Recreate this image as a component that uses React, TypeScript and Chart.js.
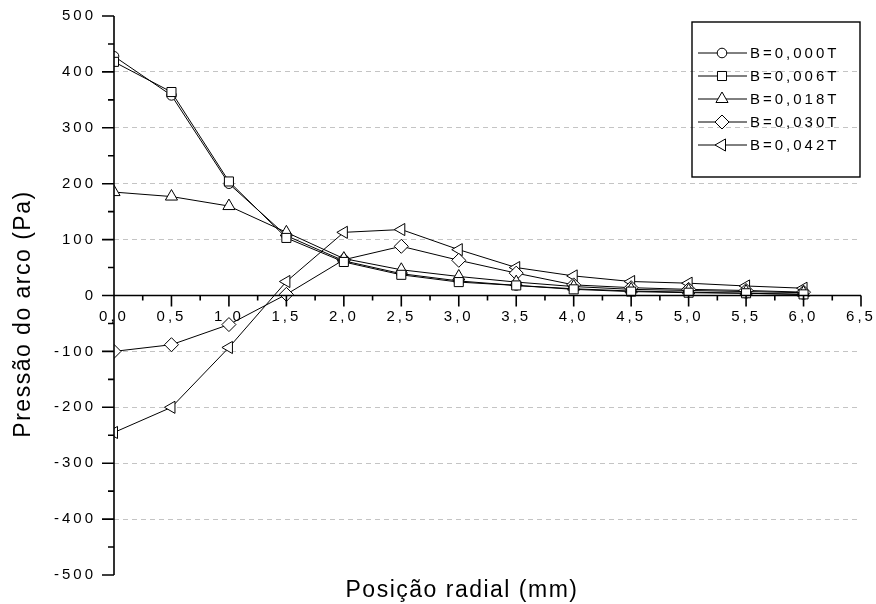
import React, { useEffect, useRef } from 'react';
import { Chart, registerables } from 'chart.js';
import { drawPoint } from 'chart.js/helpers';

Chart.register(...registerables);

// Radial position of each measurement (mm)
const radialPositions = [0, 0.5, 1, 1.5, 2, 2.5, 3, 3.5, 4, 4.5, 5, 5.5, 6];

// Arc pressure (Pa) for each magnetic field strength
const pressureB000 = [428, 358, 200, 107, 62, 39, 26, 18, 12, 8, 6, 4, 2];
const pressureB006 = [418, 364, 204, 103, 60, 37, 24, 18, 11, 7, 5, 4, 2];
const pressureB018 = [185, 177, 160, 113, 66, 46, 34, 24, 16, 11, 9, 7, 5];
const pressureB030 = [-100, -88, -52, 2, 64, 88, 63, 40, 19, 14, 11, 9, 6];
const pressureB042 = [-245, -200, -93, 25, 113, 118, 82, 50, 35, 25, 22, 17, 13];

const fieldLabels = ['B=0,000T', 'B=0,006T', 'B=0,018T', 'B=0,030T', 'B=0,042T'];
const pressureSeries = [pressureB000, pressureB006, pressureB018, pressureB030, pressureB042];

const markerShapes = ['circle', 'rect', 'triangle', 'rectRot', 'triangle'];
const markerRotations = [0, 0, 0, 0, -90];
const markerRadii = [4.8, 6.4, 7, 7, 7];
const drawOrder = [1, 0, 0, 0, 0];

const xRange = [0, 6.5];
const yRange = [-500, 500];
const xStep = 0.5;
const yStep = 100;

const xTitle = 'Posição radial (mm)';
const yTitle = 'Pressão do arco (Pa)';

const FONT = "'Liberation Sans', Arial, sans-serif";

const commaDecimal = (v: number) => v.toFixed(1).replace('.', ',');

// Origin-style frame: axis lines crossing at zero, major/minor ticks,
// boxed legend with line+marker samples, and the axis titles.
const originFrame = {
  id: 'originFrame',
  beforeDraw(chart: any) {
    const ctx = chart.ctx;
    ctx.save();
    ctx.fillStyle = '#fff';
    ctx.fillRect(0, 0, chart.width, chart.height);
    ctx.restore();
    ctx.letterSpacing = '3px';
  },
  afterDatasetsDraw(chart: any) {
    const { ctx } = chart;
    const xs = chart.scales.x;
    const ys = chart.scales.y;
    const x0 = xs.getPixelForValue(xs.min);
    const y0 = ys.getPixelForValue(0);
    ctx.save();
    ctx.strokeStyle = '#000';
    ctx.lineWidth = 1.6;
    ctx.beginPath();
    ctx.moveTo(x0, ys.getPixelForValue(ys.max));
    ctx.lineTo(x0, ys.getPixelForValue(ys.min));
    ctx.moveTo(x0, y0);
    ctx.lineTo(xs.getPixelForValue(xs.max), y0);
    for (let v = ys.min; v <= ys.max + 1e-6; v += yStep / 2) {
      const py = ys.getPixelForValue(v);
      const len = Math.abs(v % yStep) < 1e-6 ? 12 : 6;
      ctx.moveTo(x0 - len, py);
      ctx.lineTo(x0, py);
    }
    for (let v = xs.min; v <= xs.max + 1e-6; v += xStep / 2) {
      const px = xs.getPixelForValue(v);
      const k = v / xStep;
      const len = Math.abs(k - Math.round(k)) < 1e-6 ? 11 : 5;
      ctx.moveTo(px, y0);
      ctx.lineTo(px, y0 + len);
    }
    ctx.stroke();
    ctx.restore();
  },
  afterDraw(chart: any) {
    const { ctx, chartArea } = chart;
    ctx.save();

    // legend box
    const bw = 168;
    const bh = 155;
    const bx = chartArea.right - bw - 1;
    const by = 22;
    ctx.strokeStyle = '#000';
    ctx.lineWidth = 1.4;
    ctx.strokeRect(bx, by, bw, bh);
    ctx.font = `15px ${FONT}`;
    ctx.letterSpacing = '3px';
    ctx.textAlign = 'left';
    ctx.textBaseline = 'middle';
    fieldLabels.forEach((label, i) => {
      const ry = by + 31 + i * 23;
      ctx.strokeStyle = '#000';
      ctx.lineWidth = 1;
      ctx.beginPath();
      ctx.moveTo(bx + 6, ry);
      ctx.lineTo(bx + 55, ry);
      ctx.stroke();
      ctx.fillStyle = '#fff';
      drawPoint(ctx, {
        pointStyle: markerShapes[i],
        rotation: markerRotations[i],
        radius: markerRadii[i],
        borderWidth: 1,
      }, bx + 30, ry);
      ctx.fillStyle = '#000';
      ctx.fillText(label, bx + 58, ry + 1);
    });

    // axis titles
    ctx.font = `23px ${FONT}`;
    ctx.letterSpacing = '1.5px';
    ctx.fillStyle = '#000';
    ctx.textAlign = 'center';
    ctx.textBaseline = 'alphabetic';
    ctx.fillText(xTitle, 462, 597);

    ctx.translate(24, 314);
    ctx.rotate(-Math.PI / 2);
    ctx.textBaseline = 'middle';
    ctx.fillText(yTitle, 0, 0);
    ctx.restore();
    ctx.letterSpacing = '0px';
  },
};

export default function App() {
  const canvasRef = useRef<HTMLCanvasElement>(null);

  useEffect(() => {
    const canvas = canvasRef.current;
    if (!canvas) return;
    const datasets = pressureSeries.map((values, i) => ({
      label: fieldLabels[i],
      data: radialPositions.map((x, j) => ({ x, y: values[j] })),
      borderColor: '#000',
      borderWidth: 1,
      backgroundColor: '#fff',
      pointStyle: markerShapes[i],
      pointRotation: markerRotations[i],
      pointRadius: markerRadii[i],
      pointBackgroundColor: '#fff',
      pointBorderColor: '#000',
      pointBorderWidth: 1,
      tension: 0,
      fill: false,
      order: drawOrder[i],
      clip: { left: 0, top: false, right: false, bottom: false },
    }));

    const chart = new Chart(canvas, {
      type: 'line',
      data: { datasets },
      plugins: [originFrame],
      options: {
        responsive: false,
        animation: false,
        devicePixelRatio: 1,
        events: [],
        layout: { padding: { left: 0, top: 16, right: 15, bottom: 29 } },
        plugins: {
          legend: { display: false },
          tooltip: { enabled: false },
          title: { display: false },
        },
        scales: {
          x: {
            type: 'linear',
            position: { y: 0 },
            min: xRange[0],
            max: xRange[1],
            afterFit: (scale: any) => {
              scale.paddingLeft = 0;
              scale.paddingRight = 0;
              scale.paddingTop = 0;
              scale.paddingBottom = 0;
            },
            grid: { display: false },
            border: { display: false },
            ticks: {
              stepSize: xStep,
              autoSkip: false,
              maxRotation: 0,
              padding: 4,
              color: '#000',
              font: { family: FONT, size: 15 },
              callback: (v: any) => commaDecimal(Number(v)),
            },
          },
          y: {
            type: 'linear',
            position: 'left',
            min: yRange[0],
            max: yRange[1],
            afterFit: (scale: any) => {
              scale.width = 114;
              scale.paddingTop = 0;
              scale.paddingBottom = 0;
              scale.paddingLeft = 0;
              scale.paddingRight = 0;
            },
            grid: {
              drawTicks: false,
              lineWidth: 1,
              color: (c: any) => {
                const v = c.tick ? c.tick.value : 0;
                return v !== 0 && Math.abs(v) < yRange[1] ? '#c4c4c4' : 'rgba(0,0,0,0)';
              },
            },
            border: { display: false, dash: [5, 4] },
            ticks: {
              stepSize: yStep,
              padding: 18,
              color: '#000',
              font: { family: FONT, size: 15 },
              callback: (v: any) => String(v),
            },
          },
        },
      } as any,
    });
    return () => chart.destroy();
  }, []);

  return (
    <div style={{ position: 'absolute', left: 0, top: 0, width: 876, height: 604, background: '#fff' }}>
      <canvas ref={canvasRef} width={876} height={604} style={{ display: 'block' }} />
    </div>
  );
}
